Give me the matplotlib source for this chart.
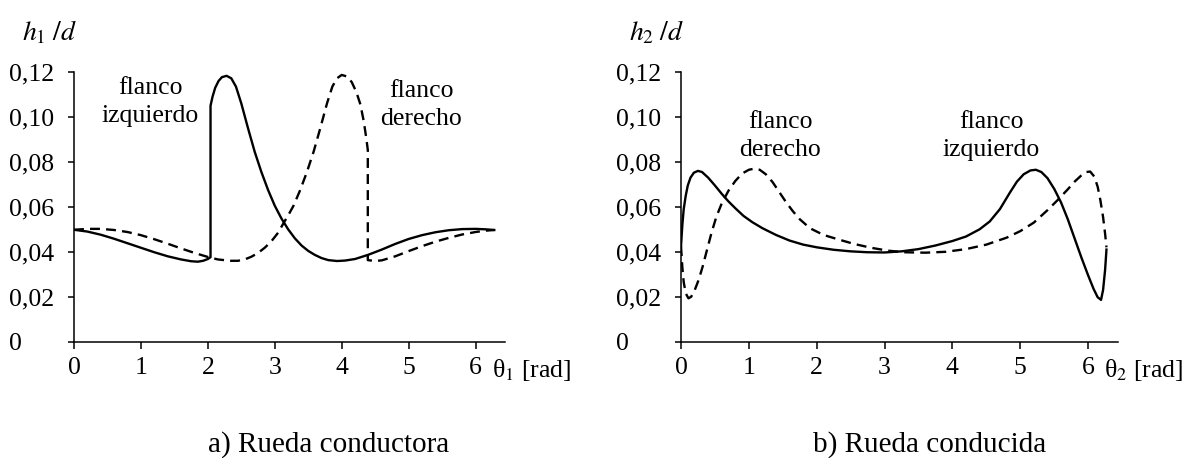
import numpy as np
import matplotlib
matplotlib.use('Agg')
import matplotlib.pyplot as plt

plt.rcParams['font.family'] = ['Liberation Serif', 'DejaVu Serif']
plt.rcParams['mathtext.fontset'] = 'stix'

# a) driving wheel: left flank (solid) and right flank (dashed)
theta1_izq = [0.00, 0.20, 0.40, 0.60, 0.80, 1.00, 1.20, 1.40, 1.60, 1.75, 1.85,
              1.93, 2.00, 2.04,
              2.04, 2.07, 2.11, 2.16, 2.21, 2.28, 2.35, 2.42, 2.50, 2.60, 2.70,
              2.80, 2.90, 3.00, 3.10, 3.20, 3.30, 3.40, 3.50, 3.60, 3.70, 3.80,
              3.93, 4.05, 4.20, 4.39, 4.60, 4.80, 5.00, 5.20, 5.40, 5.60, 5.80,
              6.00, 6.15, 6.28]
h1_izq = [0.0498, 0.0490, 0.0476, 0.0458, 0.0438, 0.0418, 0.0398, 0.0380, 0.0366,
          0.0358, 0.0356, 0.0360, 0.0368, 0.0376,
          0.1050, 0.1090, 0.1130, 0.1160, 0.1177, 0.1183, 0.1172, 0.1135, 0.1060,
          0.0950, 0.0845, 0.0755, 0.0675, 0.0605, 0.0548, 0.0500, 0.0460, 0.0428,
          0.0404, 0.0386, 0.0372, 0.0363, 0.0359, 0.0361, 0.0368, 0.0386, 0.0410,
          0.0435, 0.0457, 0.0474, 0.0487, 0.0496, 0.0501, 0.0502, 0.0500, 0.0497]

theta1_der = [0.00, 0.20, 0.40, 0.60, 0.80, 1.00, 1.20, 1.40, 1.60, 1.80, 2.00,
              2.15, 2.34, 2.45, 2.55, 2.65, 2.75, 2.85, 2.95, 3.05, 3.13, 3.20,
              3.28, 3.38, 3.48, 3.58, 3.68, 3.78, 3.86, 3.93, 4.00, 4.08, 4.15,
              4.22, 4.28, 4.33, 4.37, 4.39,
              4.39, 4.50, 4.60, 4.80, 5.00, 5.20, 5.40, 5.60, 5.80, 6.00, 6.15,
              6.28]
h1_der = [0.0498, 0.0502, 0.0502, 0.0497, 0.0488, 0.0474, 0.0456, 0.0436, 0.0415,
          0.0395, 0.0377, 0.0366, 0.0360, 0.0360, 0.0366, 0.0378, 0.0395, 0.0418,
          0.0447, 0.0485, 0.0527, 0.0562, 0.0605, 0.0675, 0.0755, 0.0845, 0.0950,
          0.1060, 0.1135, 0.1172, 0.1187, 0.1180, 0.1155, 0.1110, 0.1055, 0.0980,
          0.0900, 0.0853,
          0.0363, 0.0359, 0.0362, 0.0380, 0.0403, 0.0425, 0.0445, 0.0462, 0.0477,
          0.0488, 0.0494, 0.0497]

# b) driven wheel: left flank (solid) and right flank (dashed)
theta2_izq = [0.00, 0.02, 0.04, 0.07, 0.10, 0.14, 0.19, 0.25, 0.31, 0.40, 0.50,
              0.60, 0.70, 0.80, 0.92, 1.05, 1.20, 1.40, 1.60, 1.80, 2.00, 2.25,
              2.50, 2.75, 3.00, 3.25, 3.50, 3.75, 4.00, 4.20, 4.40, 4.55, 4.70,
              4.85, 4.95, 5.05, 5.15, 5.23, 5.31, 5.40, 5.50, 5.60, 5.70, 5.80,
              5.90, 6.00, 6.08, 6.14, 6.19, 6.22, 6.25, 6.27]
h2_izq = [0.0425, 0.0520, 0.0590, 0.0650, 0.0695, 0.0730, 0.0752, 0.0760, 0.0755,
          0.0730, 0.0695, 0.0658, 0.0624, 0.0594, 0.0560, 0.0532, 0.0505, 0.0475,
          0.0450, 0.0432, 0.0420, 0.0409, 0.0402, 0.0398, 0.0397, 0.0402, 0.0412,
          0.0428, 0.0448, 0.0468, 0.0500, 0.0535, 0.0590, 0.0665, 0.0712, 0.0745,
          0.0762, 0.0765, 0.0755, 0.0728, 0.0680, 0.0620, 0.0545, 0.0460, 0.0375,
          0.0295, 0.0235, 0.0198, 0.0186, 0.0230, 0.0320, 0.0410]

theta2_der = [0.00, 0.02, 0.04, 0.07, 0.11, 0.15, 0.20, 0.26, 0.32, 0.38, 0.45,
              0.52, 0.60, 0.70, 0.80, 0.90, 1.00, 1.08, 1.16, 1.25, 1.35, 1.45,
              1.55, 1.65, 1.75, 1.90, 2.10, 2.32, 2.55, 2.80, 3.05, 3.30, 3.60,
              3.90, 4.20, 4.50, 4.80, 5.00, 5.20, 5.40, 5.55, 5.70, 5.80, 5.90,
              5.97, 6.03, 6.09, 6.14, 6.18, 6.22, 6.25, 6.27]
h2_der = [0.0425, 0.0330, 0.0265, 0.0215, 0.0193, 0.0200, 0.0228, 0.0275, 0.0335,
          0.0405, 0.0485, 0.0555, 0.0615, 0.0672, 0.0715, 0.0748, 0.0765, 0.0770,
          0.0765, 0.0745, 0.0710, 0.0665, 0.0620, 0.0580, 0.0545, 0.0505, 0.0475,
          0.0455, 0.0435, 0.0418, 0.0405, 0.0398, 0.0396, 0.0400, 0.0412, 0.0432,
          0.0463, 0.0492, 0.0530, 0.0585, 0.0630, 0.0678, 0.0712, 0.0740, 0.0755,
          0.0757, 0.0735, 0.0690, 0.0630, 0.0555, 0.0480, 0.0420]

xticks = [0, 1, 2, 3, 4, 5, 6]
yticks = [0, 0.02, 0.04, 0.06, 0.08, 0.10, 0.12]
ytick_labels = ['0', '0,02', '0,04', '0,06', '0,08', '0,10', '0,12']

FS = 18.5
W, H = 1190, 458


def setup(ax, ylab, xlab):
    ax.set_xlim(0, 6.44)
    ax.set_ylim(0, 0.12)
    for s in ['top', 'right']:
        ax.spines[s].set_visible(False)
    for s in ['left', 'bottom']:
        ax.spines[s].set_linewidth(1.1)
    ax.set_xticks(xticks)
    ax.set_xticklabels([str(t) for t in xticks])
    ax.set_yticks(yticks)
    ax.set_yticklabels(ytick_labels)
    ax.tick_params(axis='x', length=5, width=1.1, pad=6, labelsize=FS)
    ax.tick_params(axis='y', length=4.3, width=1.1, pad=42.5, labelsize=FS)
    for lab in ax.get_yticklabels():
        lab.set_horizontalalignment('left')
    ax.text(-0.12, 1.119, ylab, transform=ax.transAxes, fontsize=FS + 1.5,
            va='baseline', ha='left')
    ax.text(6.24, -0.058, xlab, transform=ax.get_xaxis_transform(),
            fontsize=FS, va='top', ha='left')


fig = plt.figure(figsize=(W / 100, H / 100), dpi=100)
ax1 = fig.add_axes([74 / W, 1 - 341.7 / H, 431 / W, 269.7 / H])
ax2 = fig.add_axes([681 / W, 1 - 341.7 / H, 437 / W, 269.7 / H])

dash = (0, (4.2, 2.6))
lw = 1.7

ax1.plot(theta1_izq, h1_izq, color='black', lw=lw)
ax1.plot(theta1_der, h1_der, color='black', lw=lw, linestyle=dash)
setup(ax1, r'$h_1\;/d$', 'θ$_1$ [rad]')
ax1.text(1.14, 0.1178, 'flanco\nizquierdo', ha='center', va='top',
         fontsize=FS, linespacing=1.35)
ax1.text(5.19, 0.1164, 'flanco\nderecho', ha='center', va='top',
         fontsize=FS, linespacing=1.35)

ax2.plot(theta2_izq, h2_izq, color='black', lw=lw)
ax2.plot(theta2_der, h2_der, color='black', lw=lw, linestyle=dash)
setup(ax2, r'$h_2\;/d$', 'θ$_2$ [rad]')
ax2.text(1.46, 0.1025, 'flanco\nderecho', ha='center', va='top',
         fontsize=FS, linespacing=1.35)
ax2.text(4.57, 0.1025, 'flanco\nizquierdo', ha='center', va='top',
         fontsize=FS, linespacing=1.35)

fig.text(329 / W, 6.3 / H, 'a) Rueda conductora', ha='center', va='baseline',
         fontsize=21)
fig.text(930 / W, 6.3 / H, 'b) Rueda conducida', ha='center', va='baseline',
         fontsize=21)

fig.savefig('out.png', dpi=100)
